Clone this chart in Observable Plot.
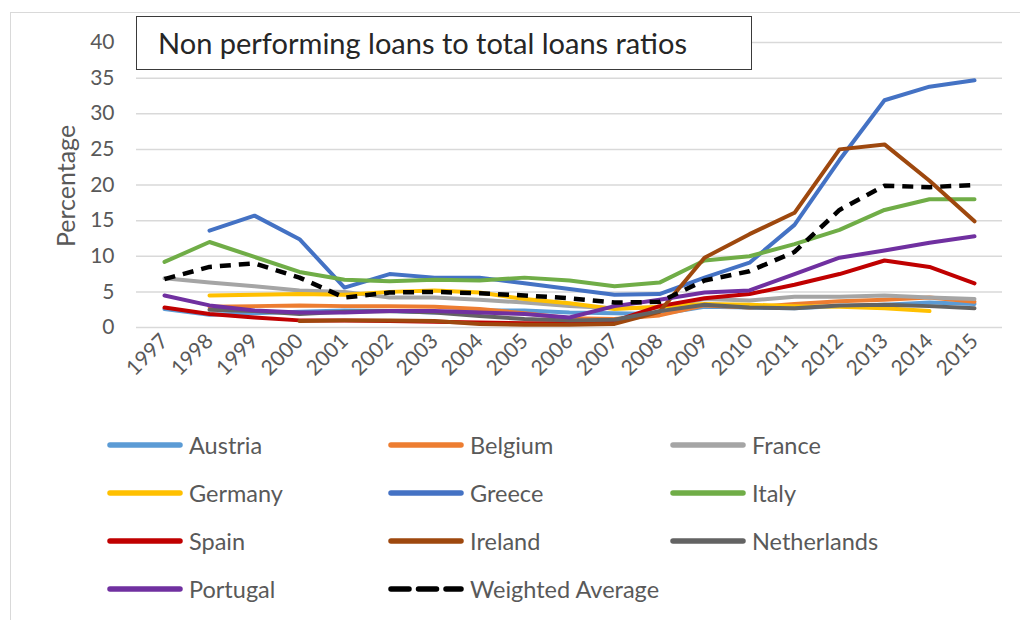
<!DOCTYPE html>
<html>
<head>
<meta charset="utf-8">
<script src="https://cdn.jsdelivr.net/npm/d3@7"></script>
<script src="https://cdn.jsdelivr.net/npm/@observablehq/plot@0.6"></script>
<style>
  html, body { margin: 0; padding: 0; background: #fff; }
  #wrap { position: relative; width: 1020px; height: 620px; overflow: hidden; font-family: Lato, "Open Sans", sans-serif; }
  #frame { position: absolute; left: 10px; top: 12px; width: 1100px; height: 700px; border-left: 1.5px solid #d9d9d9; border-top: 1.5px solid #d9d9d9; }
  #chart { position: absolute; left: 0; top: 0; }
  #title { position: absolute; left: 136px; top: 16px; width: 616px; height: 54px; border: 1.5px solid #3a3a3a; background: #fff; box-sizing: border-box;
           font-size: 29px; color: #262626; line-height: 51px; padding-left: 21px; white-space: nowrap; }
  #ylabel { position: absolute; left: 65px; top: 186px; transform: translate(-50%, -50%) rotate(-90deg); font-size: 25px; color: #595959; white-space: nowrap; }
  #legend { position: absolute; left: 0; top: 0; width: 1020px; height: 620px; pointer-events: none; }
  .item { position: absolute; display: flex; align-items: center; font-size: 23.5px; color: #595959; white-space: nowrap; }
  .item svg { margin-right: 6px; }
</style>
</head>
<body>
<div id="wrap">
  <div id="frame"></div>
  <div id="chart"></div>
  <div id="title">Non performing loans to total loans ratios</div>
  <div id="ylabel">Percentage</div>
  <div id="legend"></div>
</div>
<script>
const years = ["1997","1998","1999","2000","2001","2002","2003","2004","2005","2006","2007","2008","2009","2010","2011","2012","2013","2014","2015"];
const yTicks = [0, 5, 10, 15, 20, 25, 30, 35, 40];

const austria     = [2.6, 1.8, 2.0, 2.2, 2.4, 2.3, 2.1, 2.4, 2.4, 2.1, 2.0, 1.9, 2.9, 2.8, 2.7, 3.0, 3.2, 3.5, 3.3];
const belgium     = [null, 2.9, 3.0, 3.1, 3.0, 3.0, 2.9, 2.6, 2.0, 1.3, 1.2, 1.7, 3.1, 2.8, 3.3, 3.7, 3.9, 4.2, 3.6];
const france      = [6.9, 6.3, 5.8, 5.2, 5.0, 4.2, 4.2, 3.9, 3.5, 3.0, 2.7, 2.8, 4.0, 3.8, 4.3, 4.3, 4.5, 4.2, 4.0];
const germany     = [null, 4.5, 4.6, 4.7, 4.6, 5.0, 5.2, 4.9, 4.0, 3.4, 2.6, 2.9, 3.3, 3.2, 3.0, 2.9, 2.7, 2.3, null];
const greece      = [null, 13.6, 15.7, 12.4, 5.6, 7.5, 7.0, 7.0, 6.2, 5.4, 4.6, 4.7, 7.0, 9.1, 14.4, 23.5, 31.9, 33.8, 34.7];
const italy       = [9.2, 12.0, 9.9, 7.8, 6.7, 6.5, 6.7, 6.6, 7.0, 6.6, 5.8, 6.3, 9.4, 10.0, 11.7, 13.7, 16.5, 18.0, 18.0];
const spain       = [2.8, 1.9, 1.4, 1.0, 1.0, 0.9, 0.8, 0.7, 0.6, 0.6, 0.9, 3.0, 4.1, 4.7, 6.0, 7.5, 9.4, 8.5, 6.2];
const ireland     = [null, null, null, 0.9, 1.0, 1.0, 0.9, 0.5, 0.4, 0.4, 0.5, 2.2, 9.8, 13.1, 16.1, 25.0, 25.7, 20.6, 14.9];
const netherlands = [null, 2.5, 2.3, 1.9, 2.2, 2.3, 2.1, 1.6, 1.2, 1.0, 1.1, 2.3, 3.2, 2.8, 2.7, 3.1, 3.2, 3.0, 2.7];
const portugal    = [4.5, 3.1, 2.4, 2.1, 2.1, 2.3, 2.3, 2.1, 1.9, 1.4, 3.0, 3.9, 4.9, 5.2, 7.5, 9.8, 10.8, 11.9, 12.8];
const weighted    = [6.8, 8.5, 9.0, 7.0, 4.2, 4.9, 5.0, 4.8, 4.5, 4.1, 3.5, 3.6, 6.6, 7.9, 10.6, 16.5, 19.9, 19.7, 20.0];

const seriesNames  = ["Austria","Belgium","France","Germany","Greece","Italy","Spain","Ireland","Netherlands","Portugal","Weighted Average"];
const seriesValues = [austria, belgium, france, germany, greece, italy, spain, ireland, netherlands, portugal, weighted];
const seriesColors = ["#5B9BD5","#ED7D31","#A5A5A5","#FFC000","#4472C4","#70AD47","#C00000","#9E480E","#636363","#7030A0","#000000"];

const rows = seriesNames.map((name, i) =>
  years.map((yr, j) => ({series: name, year: yr, value: seriesValues[i][j]})).filter(d => d.value != null)
);

const lineMarks = rows.map((data, i) => {
  const dashed = seriesNames[i] === "Weighted Average";
  return Plot.line(data, {
    x: "year", y: "value",
    stroke: seriesColors[i],
    strokeWidth: dashed ? 4.5 : 4,
    strokeDasharray: dashed ? "11,8" : null,
    strokeLinejoin: "round",
    strokeLinecap: dashed ? "butt" : "round"
  });
});

const chart = Plot.plot({
  width: 1020,
  height: 420,
  marginLeft: 136,
  marginRight: 18,
  marginTop: 42,
  marginBottom: 93,
  style: {fontFamily: "Lato, 'Open Sans', sans-serif", color: "#595959", background: "transparent"},
  x: {type: "point", domain: years, padding: 0.5},
  y: {domain: [0, 40]},
  marks: [
    Plot.gridY(yTicks, {stroke: "#d9d9d9", strokeOpacity: 1, strokeWidth: 1.5}),
    Plot.axisY(yTicks, {tickSize: 0, tickPadding: 22, fontSize: 21, label: null}),
    Plot.axisX({tickSize: 0, tickPadding: 10, tickRotate: -45, fontSize: 21, label: null}),
    ...lineMarks
  ]
});
document.getElementById("chart").appendChild(chart);

// legend
const legend = document.getElementById("legend");
const colX = [107, 388, 670];
const rowY = [445, 493, 541, 589];
seriesNames.forEach((name, i) => {
  const col = i % 3, row = Math.floor(i / 3);
  const item = document.createElement("div");
  item.className = "item";
  item.style.left = colX[col] + "px";
  item.style.top = (rowY[row] - 15) + "px";
  item.style.height = "30px";
  const dashed = name === "Weighted Average";
  const svg = d3.create("svg").attr("width", 76).attr("height", 10);
  svg.append("line").attr("x1", 3).attr("x2", 73).attr("y1", 5).attr("y2", 5)
    .attr("stroke", seriesColors[i]).attr("stroke-width", 5.5)
    .attr("stroke-linecap", "round")
    .attr("stroke-dasharray", dashed ? "18,9.5" : null);
  item.appendChild(svg.node());
  const t = document.createElement("span");
  t.textContent = name;
  item.appendChild(t);
  legend.appendChild(item);
});
</script>
</body>
</html>
